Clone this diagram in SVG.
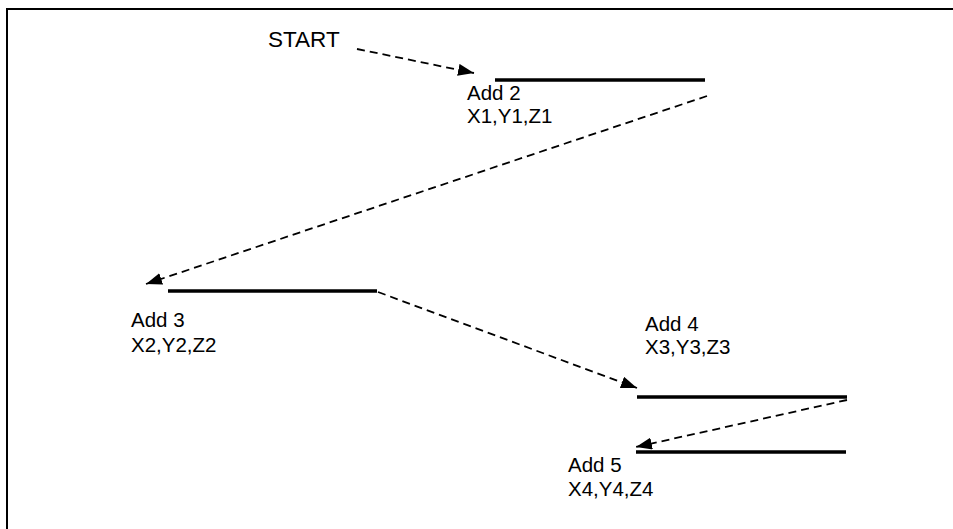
<svg xmlns="http://www.w3.org/2000/svg" width="953" height="529" viewBox="0 0 953 529">
<defs>
<marker id="ah" viewBox="0 0 16 12" refX="16" refY="6" markerWidth="16" markerHeight="12" markerUnits="userSpaceOnUse" orient="auto">
<path d="M0,0 L16,6 L0,12 Z" fill="#000"/>
</marker>
</defs>
<style>
.bar{stroke:#000;stroke-width:3.5;fill:none}
.lbl{font-family:"Liberation Sans",Arial,sans-serif;font-size:20.5px;fill:#000}
.conn{stroke:#000;stroke-width:1.8;stroke-dasharray:8,5;fill:none;marker-end:url(#ah)}
</style>
<rect x="0" y="0" width="953" height="529" fill="#fff"/>
<path d="M7,540 L7,9 L960,9" stroke="#000" stroke-width="2" fill="none"/>
<g id="start"><text class="lbl" x="268" y="47" style="font-size:22.5px">START</text></g>
<g id="add2">
<line class="bar" x1="495" y1="80" x2="705" y2="80"/>
<text class="lbl" x="467" y="100">Add 2</text>
<text class="lbl" x="467" y="123">X1,Y1,Z1</text>
</g>
<g id="add3">
<line class="bar" x1="168" y1="291" x2="377" y2="291"/>
<text class="lbl" x="131" y="327">Add 3</text>
<text class="lbl" x="131" y="352">X2,Y2,Z2</text>
</g>
<g id="add4">
<line class="bar" x1="637" y1="397" x2="847" y2="397"/>
<text class="lbl" x="645" y="331">Add 4</text>
<text class="lbl" x="645" y="354">X3,Y3,Z3</text>
</g>
<g id="add5">
<line class="bar" x1="636" y1="452" x2="846" y2="452"/>
<text class="lbl" x="568" y="472">Add 5</text>
<text class="lbl" x="568" y="496">X4,Y4,Z4</text>
</g>
<g id="connectors">
<line class="conn" x1="357" y1="49" x2="474" y2="73"/>
<line class="conn" x1="707" y1="96" x2="146" y2="284"/>
<line class="conn" x1="378" y1="292" x2="637" y2="388"/>
<line class="conn" x1="847" y1="400" x2="636" y2="447"/>
</g>
</svg>
